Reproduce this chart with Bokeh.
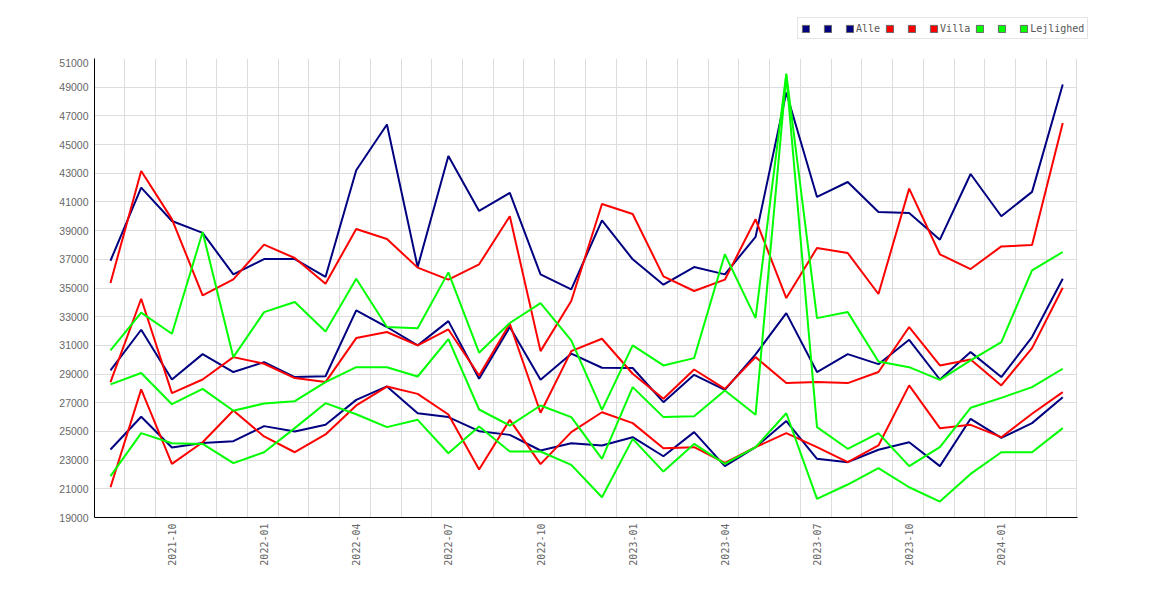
import math
from bokeh.plotting import figure
from bokeh.layouts import column
from bokeh.models import (FixedTicker, PrintfTickFormatter, Legend, LegendItem, ColumnDataSource,
                          Range1d)
from bokeh.embed import file_html
from bokeh.resources import INLINE

months = ["2021-08", "2021-09", "2021-10", "2021-11", "2021-12", "2022-01", "2022-02", "2022-03",
          "2022-04", "2022-05", "2022-06", "2022-07", "2022-08", "2022-09", "2022-10", "2022-11",
          "2022-12", "2023-01", "2023-02", "2023-03", "2023-04", "2023-05", "2023-06", "2023-07",
          "2023-08", "2023-09", "2023-10", "2023-11", "2023-12", "2024-01", "2024-02", "2024-03"]

alle_high = [36900, 42000, 39670, 38840, 35950, 37020, 37020, 35770, 43210, 46400, 36460, 44210,
             40370, 41630, 35950, 34900, 39720, 37000, 35230, 36460, 35950, 38560, 48630, 41350,
             42390, 40300, 40230, 38370, 42950, 40000, 41700, 49190]
alle_mid = [29250, 32090, 28620, 30390, 29140, 29830, 28790, 28850, 33440, 32280, 31000, 32690,
            28670, 32280, 28600, 30420, 29440, 29420, 27040, 28950, 27900, 30370, 33250, 29140,
            30390, 29690, 31390, 28620, 30530, 28790, 31580, 35650]
alle_low = [23740, 26020, 23880, 24200, 24320, 25370, 25000, 25460, 27200, 28140, 26270, 26000,
            25020, 24760, 23670, 24180, 24020, 24600, 23270, 24950, 22580, 23900, 25720, 23090,
            22860, 23720, 24250, 22580, 25880, 24550, 25580, 27390]

villa_high = [35350, 43160, 39800, 34490, 35600, 38020, 37090, 35300, 39110, 38420, 36420, 35580,
              36650, 40000, 30600, 34090, 40860, 40160, 35810, 34790, 35580, 39790, 34300, 37790,
              37440, 34580, 41930, 37350, 36320, 37900, 37990, 46510]
villa_mid = [28440, 34250, 27670, 28620, 30180, 29720, 28720, 28440, 31510, 31930, 31000, 32110,
             28900, 32510, 26300, 30600, 31460, 29020, 27280, 29320, 27970, 30180, 28370, 28440,
             28370, 29140, 32280, 29600, 30020, 28210, 30810, 35020]
villa_low = [21110, 27930, 22740, 24250, 26460, 24650, 23550, 24790, 26810, 28130, 27620, 26180,
             22340, 25810, 22720, 24950, 26340, 25580, 23830, 23900, 22810, 23900, 24880, 23900,
             22860, 24020, 28210, 25230, 25460, 24600, 26230, 27740]

lejl_high = [30650, 33280, 31810, 38900, 30180, 33320, 34020, 31970, 35650, 32280, 32200, 36090,
             30490, 32560, 33950, 31350, 26500, 31000, 29600, 30110, 37350, 32900, 49950, 32900,
             33320, 29880, 29480, 28600, 29950, 31230, 36230, 37510]
lejl_mid = [28280, 29070, 26900, 27970, 26440, 26950, 27110, 28440, 29480, 29480, 28830, 31440,
            26530, 25410, 26810, 26000, 23090, 28090, 26000, 26060, 27860, 26160, 49800, 25300,
            23790, 24880, 22580, 23900, 26650, 27340, 28090, 29370]
lejl_low = [21880, 24880, 24180, 24130, 22790, 23550, 25230, 26970, 26200, 25300, 25810, 23480,
            25340, 23600, 23600, 22670, 20410, 24480, 22200, 24130, 22740, 23900, 26270, 20300,
            21300, 22440, 21110, 20110, 22040, 23550, 23550, 25230]

groups = ["Alle", "Villa", "Lejlighed"]
colors = ["#000080", "#ff0000", "#00ff00"]
series = [[alle_high, alle_mid, alle_low],
          [villa_high, villa_mid, villa_low],
          [lejl_high, lejl_mid, lejl_low]]

y_ticks = list(range(19000, 51001, 2000))
x_tick_idx = list(range(2, len(months), 3))

# --- legend strip (top) ---
top = figure(width=1162, height=58, output_backend="svg", toolbar_location=None, title=None,
             x_range=Range1d(0, 1), y_range=Range1d(0, 1),
             x_axis_location=None, y_axis_location=None,
             min_border_left=0, min_border_right=0, min_border_top=0, min_border_bottom=0)
top.outline_line_color = None
top.grid.visible = False
top.background_fill_color = "white"
top.border_fill_color = "white"

if "frame_align" in type(top).properties():
    top.frame_align = False
    leg_x, leg_spacing = 797, 5
else:
    leg_x, leg_spacing = 703, 4

leg_items = []
for g, col in zip(groups, colors):
    for k in range(3):
        src = ColumnDataSource(dict(l=[math.nan], r=[math.nan], t=[math.nan], b=[math.nan]))
        q = top.quad(left="l", right="r", top="t", bottom="b", source=src,
                     fill_color=col, line_color="#666666", line_width=1)
        leg_items.append(LegendItem(label=(g if k == 2 else " "), renderers=[q]))

legend = Legend(items=leg_items, orientation="horizontal", location=(leg_x, 19),
                glyph_width=9, glyph_height=9, label_standoff=2, spacing=leg_spacing,
                padding=3, margin=0, label_height=14, label_width=6,
                label_text_font="DejaVu Sans Mono", label_text_font_size="10px",
                label_text_color="#555555", border_line_color="#cccccc",
                border_line_width=1, background_fill_color="white", background_fill_alpha=1.0)
top.add_layout(legend, "center")

# --- main chart ---
p = figure(width=1162, height=534, output_backend="svg", toolbar_location=None, title=None,
           x_range=Range1d(-0.52, 31.48), y_range=Range1d(19000, 51000),
           min_border_left=94, min_border_right=85, min_border_top=0, min_border_bottom=75)
p.outline_line_color = None
p.background_fill_color = "white"
p.border_fill_color = "white"

x = list(range(len(months)))
for col, sers in zip(colors, series):
    for s in sers:
        p.line(x, s, line_color=col, line_width=2)

xax = p.below[0]
yax = p.left[0]

yax.ticker = FixedTicker(ticks=y_ticks)
yax.formatter = PrintfTickFormatter(format="%d")
xax.ticker = FixedTicker(ticks=x_tick_idx)
xax.major_label_overrides = {i: months[i] for i in x_tick_idx}
xax.major_label_orientation = math.pi / 2

for ax in (xax, yax):
    ax.major_tick_line_color = None
    ax.minor_tick_line_color = None
    ax.major_tick_out = 0
    ax.major_tick_in = 0
    ax.axis_line_color = "black"
    ax.axis_line_width = 1
    ax.major_label_text_color = "#666666"
    ax.major_label_standoff = 6

yax.major_label_text_font = "Liberation Sans"
yax.major_label_text_font_size = "10.5px"
xax.major_label_text_font = "DejaVu Sans Mono"
xax.major_label_text_font_size = "10px"

p.ygrid.ticker = FixedTicker(ticks=y_ticks)
p.xgrid.ticker = FixedTicker(ticks=[i + 0.46 for i in range(-1, len(months))])
p.grid.grid_line_color = "#dddddd"
p.grid.grid_line_width = 1

layout = column(top, p, spacing=0)
open("out.html", "w").write(file_html(layout, INLINE))
